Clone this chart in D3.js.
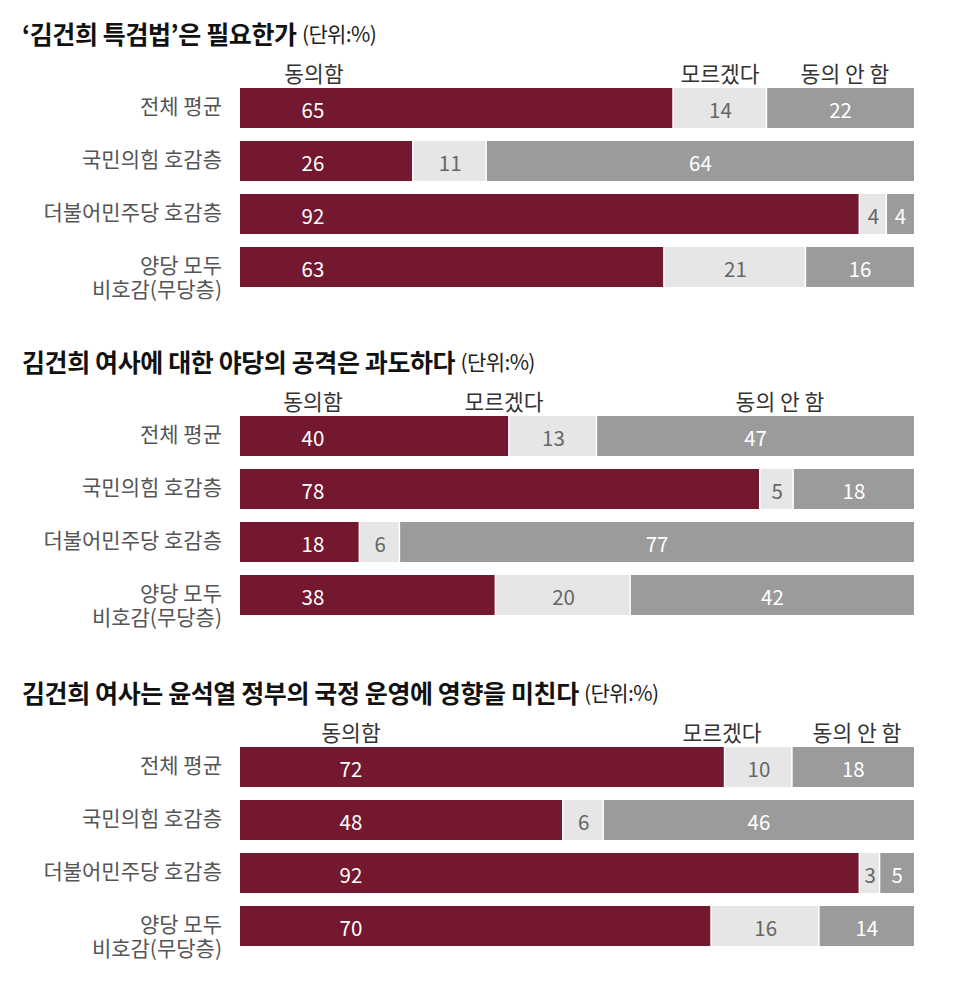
<!DOCTYPE html>
<html>
<head>
<meta charset="utf-8">
<script src="https://cdn.jsdelivr.net/npm/d3@7"></script>
<style>
  html, body { margin: 0; padding: 0; background: #fff; }
  svg { display: block; font-family: "Noto Sans CJK KR", "Noto Sans", sans-serif; }
</style>
</head>
<body>
<svg id="chart" width="960" height="1004"></svg>
<script>
// ---------- data ----------
const panelTitles = [
  "‘김건희 특검법’은 필요한가",
  "김건희 여사에 대한 야당의 공격은 과도하다",
  "김건희 여사는 윤석열 정부의 국정 운영에 영향을 미친다"
];
const unitLabel = "(단위:%)";
const categories = ["전체 평균", "국민의힘 호감층", "더불어민주당 호감층", "양당 모두\n비호감(무당층)"];
const seriesNames = ["동의함", "모르겠다", "동의 안 함"];

const agree1 = [65, 26, 92, 63];
const unsure1 = [14, 11, 4, 21];
const disagree1 = [22, 64, 4, 16];

const agree2 = [40, 78, 18, 38];
const unsure2 = [13, 5, 6, 20];
const disagree2 = [47, 18, 77, 42];

const agree3 = [72, 48, 92, 70];
const unsure3 = [10, 6, 3, 16];
const disagree3 = [18, 46, 5, 14];

const panels = [
  [agree1, unsure1, disagree1],
  [agree2, unsure2, disagree2],
  [agree3, unsure3, disagree3]
];

// ---------- layout / style ----------
const colors = ["#73182e", "#e6e6e6", "#9b9b9c"];
const textColors = ["#ffffff", "#666666", "#ffffff"];
const barLeft = 240, barRight = 914;
const panelTops = [88, 416, 747];       // top of first bar in each panel
const rowStep = 53, barH = 40;
const agreeLabelX = [313, 313, 351];     // x of the "동의함" value labels
const legendX = [                         // legend label centers per panel
  [314, 720, 845],
  [313, 504, 780],
  [351, 722, 857]
];

const svg = d3.select("#chart");

panels.forEach((series, p) => {
  const g = svg.append("g");
  const top = panelTops[p];

  // title
  const title = g.append("text")
    .attr("x", 22)
    .attr("y", top - 55)
    .attr("dominant-baseline", "central");
  title.append("tspan")
    .attr("font-size", 25)
    .attr("font-weight", 700)
    .attr("fill", "#111")
    .style("letter-spacing", "-0.4px")
    .text(panelTitles[p] + " ");
  title.append("tspan")
    .attr("font-size", 21)
    .attr("font-weight", 400)
    .attr("fill", "#222")
    .style("letter-spacing", "-0.6px")
    .text(unitLabel);

  const n = categories.length;
  const y = d3.scaleBand()
    .domain(categories)
    .range([top, top + rowStep * n - (rowStep - barH)])
    .paddingInner((rowStep - barH) / rowStep)
    .paddingOuter(0);

  // legend labels
  seriesNames.forEach((name, i) => {
    g.append("text")
      .attr("x", legendX[p][i])
      .attr("y", top - 16)
      .attr("text-anchor", "middle")
      .attr("dominant-baseline", "central")
      .attr("font-size", 21.5)
      .attr("fill", "#333")
      .text(name);
  });

  categories.forEach((cat, r) => {
    const vals = series.map(s => s[r]);
    const total = d3.sum(vals);
    const x = d3.scaleLinear().domain([0, total]).range([barLeft, barRight]);
    const stack = d3.cumsum(vals);
    const by = y(cat), bh = y.bandwidth();

    vals.forEach((v, i) => {
      const x0 = x(stack[i] - v), x1 = x(stack[i]);
      g.append("rect")
        .attr("x", x0)
        .attr("y", by)
        .attr("width", Math.max(0, x1 - x0 - (i < vals.length - 1 ? 1.5 : 0)))
        .attr("height", bh)
        .attr("fill", colors[i]);
      const lx = i === 0 ? agreeLabelX[p] : (x0 + x1) / 2;
      g.append("text")
        .attr("x", lx)
        .attr("y", by + bh / 2 + 1)
        .attr("text-anchor", "middle")
        .attr("dominant-baseline", "central")
        .attr("font-size", 20.5)
        .attr("fill", textColors[i])
        .text(v);
    });

    // row label
    const lines = cat.split("\n");
    lines.forEach((ln, k) => {
      g.append("text")
        .attr("x", 222)
        .attr("y", by + bh / 2 - 3 + k * 24)
        .attr("text-anchor", "end")
        .attr("dominant-baseline", "central")
        .attr("font-size", 21)
        .attr("fill", "#555")
        .text(ln);
    });
  });
});
</script>
</body>
</html>
